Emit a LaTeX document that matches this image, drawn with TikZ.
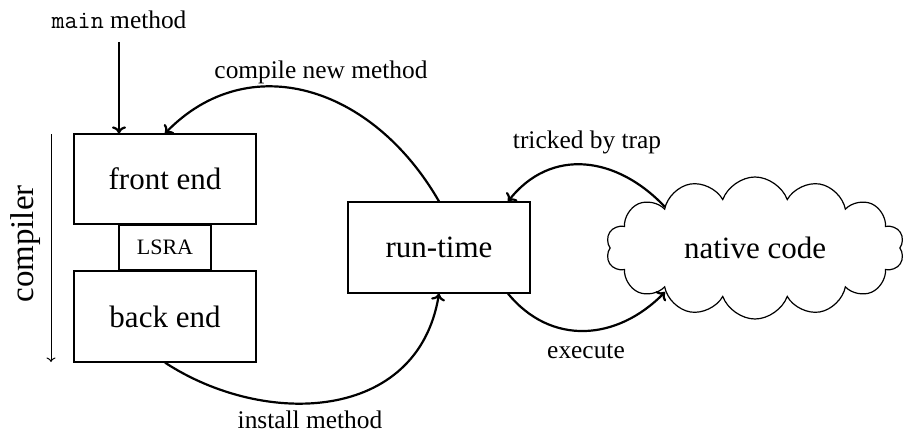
\documentclass[tikz,border=0pt]{standalone}
\usepackage{fontspec}
\setmainfont{Liberation Serif}
\usetikzlibrary{shapes.symbols,arrows.meta}
\begin{document}
\begin{tikzpicture}[x=1pt,y=1pt,
  box/.style={draw, line width=1.2pt, minimum width=182pt, minimum height=91pt, inner sep=0pt, font=\fontsize{31}{36}\selectfont},
  lbl/.style={font=\fontsize{25.4}{30}\selectfont, inner sep=0pt, anchor=base},
  conn/.style={line width=2.2pt, -{To[length=7pt,width=14pt]}},
]
\useasboundingbox (0,0) rectangle (904,432);
% compiler stages
\node[box, minimum height=90pt] (fe) at (165,253) {front end};
\node[draw, line width=2.5pt, minimum width=92pt, minimum height=46pt, inner sep=0pt,
      font=\fontsize{22}{26}\selectfont] (lsra) at (165,184.5) {LSRA};
\node[box] (be) at (165,115.5) {back end};
\node[box] (rt) at (439,184.5) {run-time};
\node[cloud, draw, line width=1.2pt, cloud puffs=14, cloud puff arc=140, aspect=2.1,
      minimum width=298pt, minimum height=142pt, inner sep=0pt,
      font=\fontsize{31}{36}\selectfont] (nc) at (755,184) {native code};
% compiler label
\node[rotate=90, anchor=base, inner sep=0pt, font=\fontsize{33}{38}\selectfont] (cl) at (33,188) {compiler};
\coordinate (ctop) at (51,298);
\coordinate (cbot) at (51,70);
\draw[line width=1pt, -{To[length=4.5pt,width=9pt]}] (ctop) -- (cbot);
% main method
\node[lbl] (mm) at (119,403) {\texttt{main} method};
\coordinate (mstart) at (119,390);
\draw[conn] (mstart) -- (fe.north -| mstart);
% compile new method
\draw[conn] (rt.north) .. controls (372,347) and (248,384) .. (fe.north);
\node[lbl] (l1) at (321,353) {compile new method};
% install method
\draw[conn] (be.south) .. controls (265,4) and (418,10) .. (rt.south);
\node[lbl] (l2) at (310,4) {install method};
% tricked by trap
\draw[conn] ([shift={(-90,41)}]nc.center) .. controls (617,276) and (551,285) .. ([xshift=69pt]rt.north);
\node[lbl] (l3) at (587,284) {tricked by trap};
% execute
\draw[conn] ([xshift=69pt]rt.south) .. controls (551,86) and (617,91) .. ([shift={(-90,-44)}]nc.center);
\node[lbl] (l4) at (586,74) {execute};
\end{tikzpicture}
\end{document}
